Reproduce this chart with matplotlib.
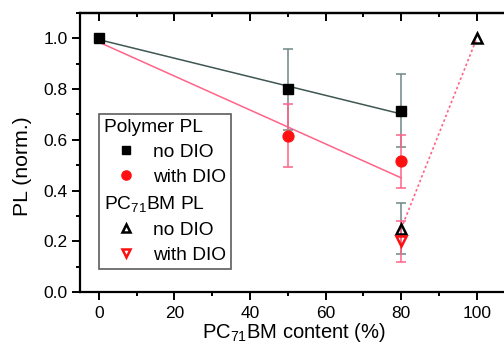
import matplotlib
matplotlib.use("Agg")
import matplotlib.pyplot as plt
from matplotlib.lines import Line2D
from matplotlib.ticker import MultipleLocator

plt.rcParams['font.family'] = ['Liberation Sans', 'DejaVu Sans']
plt.rcParams['mathtext.fontset'] = 'custom'
plt.rcParams['mathtext.rm'] = 'Liberation Sans'
plt.rcParams['mathtext.it'] = 'Liberation Sans'

# Polymer PL, no DIO
poly_nodio_x = [0, 50, 80]
poly_nodio_y = [1.0, 0.80, 0.715]
poly_nodio_err_hi = [0.0, 0.16, 0.145]
poly_nodio_err_lo = [0.0, 0.16, 0.145]
poly_nodio_fit_x = [0, 80]
poly_nodio_fit_y = [0.995, 0.702]

# Polymer PL, with DIO
poly_dio_x = [50, 80]
poly_dio_y = [0.615, 0.515]
poly_dio_err_hi = [0.125, 0.105]
poly_dio_err_lo = [0.122, 0.104]
poly_dio_fit_x = [0, 80]
poly_dio_fit_y = [0.985, 0.45]

# PC71BM PL, no DIO
pcbm_nodio_x = [80, 100]
pcbm_nodio_y = [0.25, 1.0]
pcbm_nodio_err = [0.10, 0.0]

# PC71BM PL, with DIO
pcbm_dio_x = [80]
pcbm_dio_y = [0.20]
pcbm_dio_err = [0.08]

grey_line = '#3f5754'
grey_err = '#6f8886'
pink = '#ff6388'
red = '#ff1010'

fig = plt.figure(figsize=(5.04, 3.46), dpi=100)
ax = fig.add_axes([80/504, (346-292)/346, 427/504, 279/346])

# fit lines
ax.plot(poly_nodio_fit_x, poly_nodio_fit_y, color=grey_line, lw=1.1, zorder=2)
ax.plot(poly_dio_fit_x, poly_dio_fit_y, color=pink, lw=1.1, zorder=2)
# dotted line for PC71BM
ax.plot(pcbm_nodio_x, pcbm_nodio_y, color=pink, lw=1.2, ls=(0, (1.5, 1.5)), zorder=2)

ekw = dict(fmt='none', elinewidth=1.1, capsize=3.6, capthick=1.1, zorder=3)
ax.errorbar(poly_nodio_x, poly_nodio_y, yerr=[poly_nodio_err_lo, poly_nodio_err_hi],
            ecolor=grey_err, **ekw)
ax.errorbar(poly_dio_x, poly_dio_y, yerr=[poly_dio_err_lo, poly_dio_err_hi],
            ecolor=pink, **ekw)
ax.errorbar(pcbm_nodio_x[:1], pcbm_nodio_y[:1], yerr=pcbm_nodio_err[:1],
            ecolor=grey_err, **ekw)
ax.errorbar(pcbm_dio_x, pcbm_dio_y, yerr=pcbm_dio_err,
            ecolor=pink, **ekw)

# markers
h1, = ax.plot(poly_nodio_x, poly_nodio_y, 's', color='black', ms=6.6, ls='none', zorder=5)
h2, = ax.plot(poly_dio_x, poly_dio_y, 'o', color=red, ms=7.8, ls='none', zorder=5)
h3, = ax.plot(pcbm_nodio_x, pcbm_nodio_y, '^', mfc='none', mec='black', mew=1.8, ms=7.5, ls='none', zorder=5)
h4, = ax.plot(pcbm_dio_x, pcbm_dio_y, 'v', mfc='none', mec=red, mew=1.8, ms=7.5, ls='none', zorder=5)

ax.set_xlim(-5, 108)
ax.set_ylim(0, 1.1)
ax.xaxis.set_major_locator(MultipleLocator(20))
ax.xaxis.set_minor_locator(MultipleLocator(10))
ax.yaxis.set_major_locator(MultipleLocator(0.2))
ax.yaxis.set_minor_locator(MultipleLocator(0.1))
ax.yaxis.set_major_formatter(plt.FormatStrFormatter('%.1f'))
ax.tick_params(which='both', direction='out', width=1.4, labelsize=12.5)
ax.tick_params(which='major', length=5.8)
ax.tick_params(which='minor', length=2.9)
ax.tick_params(axis='x', pad=4.5)
ax.tick_params(axis='y', pad=3.0)
# mirrored top ticks pointing inward
secx = ax.secondary_xaxis('top')
secx.xaxis.set_major_locator(MultipleLocator(20))
secx.xaxis.set_minor_locator(MultipleLocator(10))
secx.tick_params(which='both', direction='in', width=1.4, labeltop=False)
secx.tick_params(which='major', length=5.8)
secx.tick_params(which='minor', length=2.9)
secx.spines['top'].set_linewidth(1.6)
for s in ax.spines.values():
    s.set_linewidth(1.6)

ax.set_xlabel('PC$_{71}$BM content (%)', fontsize=14.5, labelpad=0)
ax.set_ylabel('PL (norm.)', fontsize=15.3)
ax.yaxis.set_label_coords(-0.112, 0.45)

blank = Line2D([], [], ls='none')
handles = [blank, h1, h2, blank, h3, h4]
labels = ['Polymer PL', 'no DIO', 'with DIO', 'PC$_{71}$BM PL', 'no DIO', 'with DIO']
leg = ax.legend(handles, labels, loc='upper left', bbox_to_anchor=(19/427, (292-114)/279),
                fontsize=13.8, frameon=True, fancybox=False, edgecolor='#333333',
                handlelength=2.3, handletextpad=0.28, borderpad=0.25, labelspacing=0.4,
                borderaxespad=0, markerscale=0.85)
leg.get_frame().set_linewidth(1.2)
rows = leg._legend_handle_box.get_children()[0].get_children()
for i in (0, 3):
    rows[i]._children = rows[i]._children[1:]

fig.savefig('out.png', dpi=100)
